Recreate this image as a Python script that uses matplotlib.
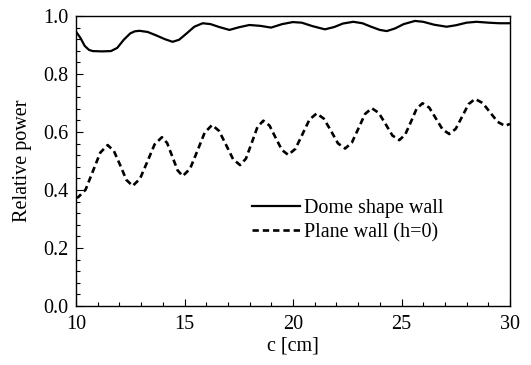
import matplotlib
matplotlib.use("Agg")
import matplotlib.pyplot as plt
from matplotlib.ticker import MultipleLocator, FormatStrFormatter

# Dome shape wall (solid)
dome_c = [10.0, 10.2, 10.4, 10.6, 10.77, 11.2, 11.61, 11.9, 12.2, 12.5, 12.7, 12.92,
          13.3, 13.7, 14.1, 14.45, 14.75, 15.1, 15.45, 15.84, 16.2, 16.6, 17.07, 17.5,
          17.99, 18.5, 18.99, 19.5, 19.99, 20.4, 20.9, 21.47, 21.9, 22.3, 22.78, 23.2,
          23.6, 24.0, 24.32, 24.7, 25.1, 25.62, 26.0, 26.5, 27.08, 27.5, 28.0, 28.46,
          29.0, 29.5, 30.0]
dome_p = [0.946, 0.925, 0.897, 0.883, 0.879, 0.878, 0.879, 0.890, 0.918, 0.940, 0.947, 0.949,
          0.945, 0.933, 0.920, 0.911, 0.918, 0.940, 0.963, 0.975, 0.972, 0.962, 0.952, 0.961,
          0.969, 0.966, 0.960, 0.972, 0.979, 0.977, 0.965, 0.954, 0.962, 0.974, 0.980, 0.975,
          0.963, 0.952, 0.948, 0.957, 0.972, 0.983, 0.980, 0.970, 0.963, 0.968, 0.977, 0.980,
          0.977, 0.975, 0.975]

# Plane wall (h=0) (dashed)
plane_c = [10.0, 10.1, 10.44, 10.78, 11.12, 11.46, 11.75, 12.04, 12.32, 12.61, 12.95, 13.29,
           13.62, 13.96, 14.2, 14.44, 14.68, 14.92, 15.26, 15.6, 15.93, 16.27, 16.59, 16.92,
           17.24, 17.56, 17.83, 18.1, 18.36, 18.63, 18.92, 19.2, 19.49, 19.78, 20.11, 20.44,
           20.76, 21.09, 21.42, 21.75, 22.07, 22.4, 22.71, 23.02, 23.32, 23.63, 23.95, 24.27,
           24.58, 24.9, 25.17, 25.44, 25.7, 25.97, 26.28, 26.59, 26.89, 27.2, 27.5, 27.8,
           28.09, 28.39, 28.74, 29.08, 29.43, 29.77, 30.0]
plane_p = [0.374, 0.375, 0.401, 0.465, 0.529, 0.555, 0.534, 0.485, 0.435, 0.414, 0.439, 0.498,
           0.557, 0.582, 0.562, 0.515, 0.468, 0.448, 0.474, 0.536, 0.598, 0.624, 0.604, 0.555,
           0.506, 0.486, 0.508, 0.563, 0.617, 0.639, 0.622, 0.580, 0.538, 0.521, 0.542, 0.593,
           0.643, 0.664, 0.646, 0.604, 0.561, 0.543, 0.563, 0.613, 0.662, 0.682, 0.666, 0.627,
           0.588, 0.572, 0.591, 0.636, 0.681, 0.699, 0.684, 0.646, 0.609, 0.593, 0.611, 0.654,
           0.696, 0.714, 0.700, 0.668, 0.635, 0.621, 0.628]

labels = ["Dome shape wall", "Plane wall (h=0)"]

plt.rcParams['font.family'] = ['Liberation Serif', 'DejaVu Serif']
plt.rcParams['font.size'] = 14.5

fig = plt.figure(figsize=(5.31, 3.65), dpi=100)
ax = fig.add_axes([76/531, 1 - 306/365, 434/531, 290/365])

ax.plot(dome_c, dome_p, color='black', lw=1.6, label=labels[0])
ax.plot(plane_c, plane_p, color='black', lw=1.9, linestyle=(0, (2.4, 1.5)), label=labels[1])

ax.set_xlim(10, 30)
ax.set_ylim(0, 1.0)
ax.xaxis.set_major_locator(MultipleLocator(5))
ax.xaxis.set_minor_locator(MultipleLocator(1))
ax.yaxis.set_major_locator(MultipleLocator(0.2))
ax.yaxis.set_minor_locator(MultipleLocator(0.04))
ax.yaxis.set_major_formatter(FormatStrFormatter('%.1f'))
ax.tick_params(which='both', direction='in', top=False, right=False, labelsize=14.5)
ax.tick_params(axis='x', which='major', pad=6.5)
ax.tick_params(axis='y', which='major', pad=5.5)
ax.tick_params(which='major', length=5, width=0.8)
ax.tick_params(which='minor', length=3, width=0.8)
for s in ax.spines.values():
    s.set_linewidth(1.0)

ax.set_xlabel("c [cm]", fontsize=14.5, labelpad=2)
ax.set_ylabel("Relative power", fontsize=14.5, labelpad=8)

leg = ax.legend(loc='upper left', bbox_to_anchor=(0.405, 0.37), frameon=False,
                handlelength=2.4, handletextpad=0.2, labelspacing=0.25, fontsize=14.5,
                borderaxespad=0, borderpad=0)

fig.savefig("out.png", dpi=100)
